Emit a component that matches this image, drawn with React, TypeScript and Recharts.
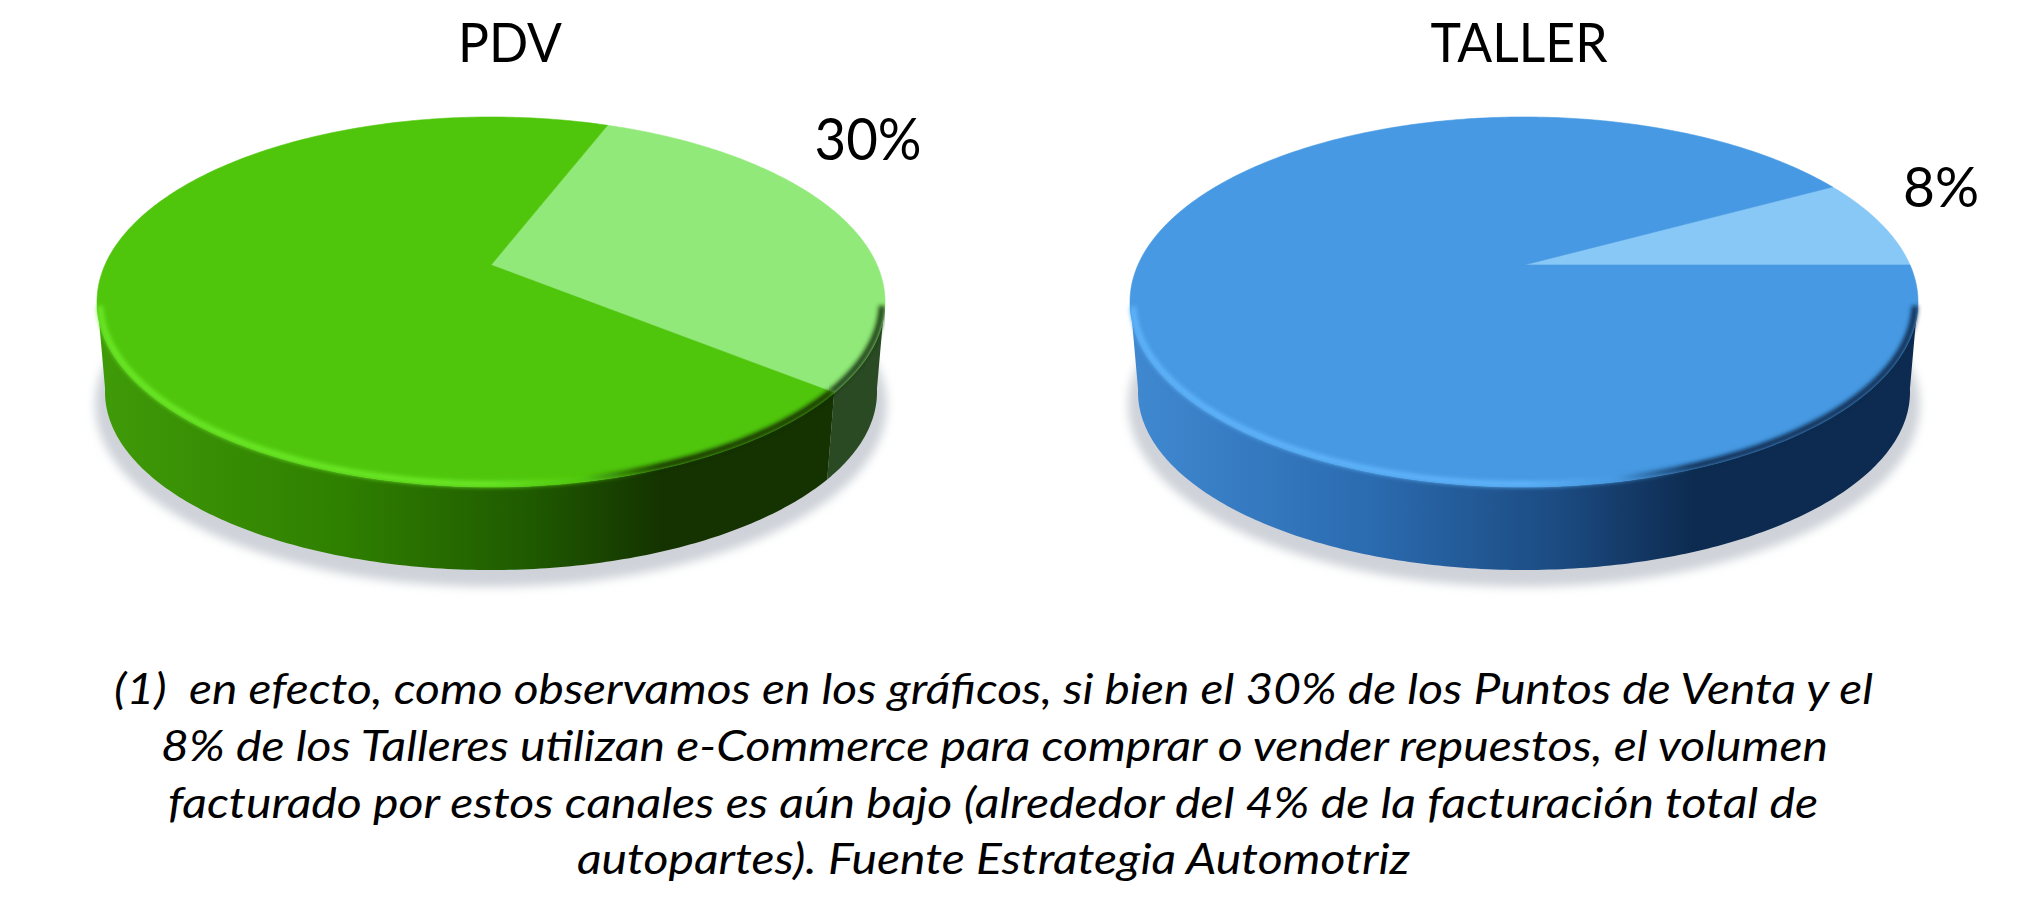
import React from "react";
import { PieChart, Pie, Cell } from "recharts";

const W = 2025;
const H = 920;

// Data
const pdvLabels = ["Utiliza e-Commerce", "No utiliza"];
const pdvValues = [30, 70];
const tallerLabels = ["Utiliza e-Commerce", "No utiliza"];
const tallerValues = [8, 92];
const chartTitles = ["PDV", "TALLER"];
const noteLines = [
  "(1)  en efecto, como observamos en los gráficos, si bien el 30% de los Puntos de Venta y el",
  "8% de los Talleres utilizan e-Commerce para comprar o vender repuestos, el volumen",
  "facturado por estos canales es aún bajo (alrededor del 4% de la facturación total de",
  "autopartes). Fuente Estrategia Automotriz",
];

// Layout
const R = 386;
const CY = 265;
const PDV_CX = 491;
const TALLER_CX = 1524;
const PDV_START = 69;
const TALLER_START = 28.8;

const RIM_RX = 394;
const RIM_RY = 185;
const APEX_DROP = 37;
const WORLD_Y = 177.6;
const BASE_RX = 386;
const BASE_RY = 178;
const BASE_DROP = 127;

const toRows = (labels: string[], values: number[]) =>
  labels.map((name, i) => ({ name, value: values[i] }));

// Where a ray from the (perspective-shifted) apex hits the top ellipse
function rim(cx: number, cy: number, deg: number) {
  const a = (deg * Math.PI) / 180;
  const dx = Math.cos(a) * R;
  const dy = -Math.sin(a) * WORLD_Y;
  const d = APEX_DROP;
  const A = (dx * dx) / (RIM_RX * RIM_RX) + (dy * dy) / (RIM_RY * RIM_RY);
  const B = (-2 * dy * d) / (RIM_RY * RIM_RY);
  const C = (d * d) / (RIM_RY * RIM_RY) - 1;
  const t = (-B + Math.sqrt(B * B - 4 * A * C)) / (2 * A);
  const x = cx + t * dx;
  const y = cy + t * dy;
  const ux = (x - cx) / RIM_RX;
  const uy = (y - (cy + APEX_DROP)) / RIM_RY;
  return { x, y, ux, uy };
}

function samples(s: number, e: number) {
  const n = Math.max(2, Math.ceil(Math.abs(e - s) / 0.75));
  return Array.from({ length: n + 1 }, (_, i) => s + ((e - s) * i) / n);
}

const FaceShape = (p: any) => {
  const pts = samples(p.startAngle, p.endAngle).map((a) => rim(p.cx, p.cy, a));
  const d =
    `M${p.cx},${p.cy} ` + pts.map((q) => `L${q.x.toFixed(2)},${q.y.toFixed(2)}`).join(" ") + " Z";
  return <path d={d} fill={p.fill} stroke={p.fill} strokeWidth={0.6} />;
};

const SideShape = (p: any) => {
  const top = samples(p.startAngle, p.endAngle)
    .map((a) => rim(p.cx, p.cy, a))
    .filter((q) => q.uy > -0.02);
  if (top.length < 2) return <g />;
  const bottom = top
    .map((q) => ({
      x: p.cx + q.ux * BASE_RX,
      y: p.cy + BASE_DROP + q.uy * BASE_RY,
    }))
    .reverse();
  const d =
    [...top, ...bottom].map((q, i) => `${i ? "L" : "M"}${q.x.toFixed(2)},${q.y.toFixed(2)}`).join(" ") + " Z";
  return <path d={d} fill={p.fill} stroke="none" />;
};

const RimShape = (p: any) => {
  const pts = samples(p.startAngle, p.endAngle)
    .map((a) => rim(p.cx, p.cy, a))
    .filter((q) => q.uy > 0.02);
  if (pts.length < 2) return <g />;
  const d = pts
    .map((q, i) => {
      const x = p.cx + q.ux * (RIM_RX - 3);
      const y = p.cy + APEX_DROP + q.uy * (RIM_RY - 3);
      return `${i ? "L" : "M"}${x.toFixed(2)},${y.toFixed(2)}`;
    })
    .join(" ");
  return <path d={d} fill="none" stroke={p.fill} strokeWidth={6} filter="url(#soft)" />;
};

const ShadowShape = (p: any) => {
  if (p.index !== 0) return <g />;
  return (
    <ellipse
      cx={p.cx}
      cy={p.cy + BASE_DROP + 13}
      rx={BASE_RX + 10}
      ry={BASE_RY + 4}
      fill="#cfd3d9"
      filter="url(#shadowBlur)"
    />
  );
};

function sideGradient(id: string, cx: number, stops: string[]) {
  const offs = [0, 0.3, 0.55, 0.72, 1];
  return (
    <linearGradient id={id} gradientUnits="userSpaceOnUse" x1={cx - R} x2={cx + R} y1={0} y2={0}>
      {stops.map((c, i) => (
        <stop key={i} offset={offs[i]} stopColor={c} />
      ))}
    </linearGradient>
  );
}

function rimGradient(id: string, cx: number, bright: string, face: string, dark: string) {
  return (
    <linearGradient id={id} gradientUnits="userSpaceOnUse" x1={cx - R} x2={cx + R} y1={0} y2={0}>
      <stop offset={0} stopColor={bright} />
      <stop offset={0.5} stopColor={bright} />
      <stop offset={0.62} stopColor={face} />
      <stop offset={0.72} stopColor={dark} />
      <stop offset={1} stopColor={dark} />
    </linearGradient>
  );
}

const layerProps = {
  dataKey: "value",
  outerRadius: R,
  cy: CY,
  isAnimationActive: false,
  stroke: "none",
  legendType: "none" as const,
  tooltipType: "none" as const,
  labelLine: false,
  label: false,
};

function layers(
  key: string,
  rows: { name: string; value: number }[],
  cx: number,
  start: number,
  faceColors: string[],
  sideColors: string[],
  rimColors: string[],
) {
  const common = { ...layerProps, data: rows, cx, startAngle: start, endAngle: start - 360 };
  return [
    <Pie key={key + "-shadow"} {...common} shape={ShadowShape} />,
    <Pie key={key + "-side"} {...common} shape={SideShape}>
      {rows.map((_, i) => (
        <Cell key={i} fill={sideColors[i]} />
      ))}
    </Pie>,
    <Pie key={key + "-face"} {...common} shape={FaceShape}>
      {rows.map((_, i) => (
        <Cell key={i} fill={faceColors[i]} />
      ))}
    </Pie>,
    <Pie key={key + "-rim"} {...common} shape={RimShape}>
      {rows.map((_, i) => (
        <Cell key={i} fill={rimColors[i]} />
      ))}
    </Pie>,
  ];
}

const FONT = "Lato, 'Open Sans', sans-serif";

export default function App() {
  const pdvRows = toRows(pdvLabels, pdvValues);
  const tallerRows = toRows(tallerLabels, tallerValues);
  return (
    <div style={{ position: "absolute", left: 0, top: 0, width: W, height: H, background: "#fff" }}>
      <PieChart width={W} height={H} margin={{ top: 0, right: 0, bottom: 0, left: 0 }}>
        <defs>
          <filter id="soft" x="-5%" y="-20%" width="110%" height="140%">
            <feGaussianBlur stdDeviation="2" />
          </filter>
          <filter id="shadowBlur" x="-5%" y="-10%" width="110%" height="120%">
            <feGaussianBlur stdDeviation="5" />
          </filter>
          {sideGradient("sideGreen", PDV_CX, ["#3f9a08", "#2f8000", "#1f5a00", "#143300", "#143300"])}
          {sideGradient("sideBlue", TALLER_CX, ["#3f88d0", "#2b6bb0", "#1b4a80", "#0d2b50", "#0d2b50"])}
          {rimGradient("rimGreen", PDV_CX, "#6ae828", "#4fc60c", "#143300")}
          {rimGradient("rimBlue", TALLER_CX, "#5fb4fa", "#4699e2", "#0d2b50")}
        </defs>
        {layers("pdv", pdvRows, PDV_CX, PDV_START, ["#90e978", "#4fc60c"], ["#2a4a24", "url(#sideGreen)"], ["#1e3c14", "url(#rimGreen)"])}
        {layers("taller", tallerRows, TALLER_CX, TALLER_START, ["#88c8f6", "#4699e2"], ["#0d2b50", "url(#sideBlue)"], ["#0d2b50", "url(#rimBlue)"])}

        <g fontFamily={FONT} fill="#000">
          <text x={510} y={62} fontSize={54} textAnchor="middle" textLength={104} lengthAdjust="spacingAndGlyphs">
            {chartTitles[0]}
          </text>
          <text x={1519} y={62} fontSize={54} textAnchor="middle" textLength={177} lengthAdjust="spacingAndGlyphs">
            {chartTitles[1]}
          </text>
          <text x={868} y={160} fontSize={58} textAnchor="middle" textLength={107} lengthAdjust="spacingAndGlyphs">
            {`${pdvValues[0]}%`}
          </text>
          <text x={1941} y={207} fontSize={56} textAnchor="middle" textLength={76} lengthAdjust="spacingAndGlyphs">
            {`${tallerValues[0]}%`}
          </text>
          <g fontStyle="italic" fontSize={43} textAnchor="middle">
            <text x={993.5} y={704} textLength={1759} lengthAdjust="spacingAndGlyphs" style={{ whiteSpace: "pre" }}>
              {noteLines[0]}
            </text>
            <text x={994.5} y={761} textLength={1667} lengthAdjust="spacingAndGlyphs">
              {noteLines[1]}
            </text>
            <text x={993} y={818} textLength={1650} lengthAdjust="spacingAndGlyphs">
              {noteLines[2]}
            </text>
            <text x={993.5} y={874} textLength={833} lengthAdjust="spacingAndGlyphs">
              {noteLines[3]}
            </text>
          </g>
        </g>
      </PieChart>
    </div>
  );
}
